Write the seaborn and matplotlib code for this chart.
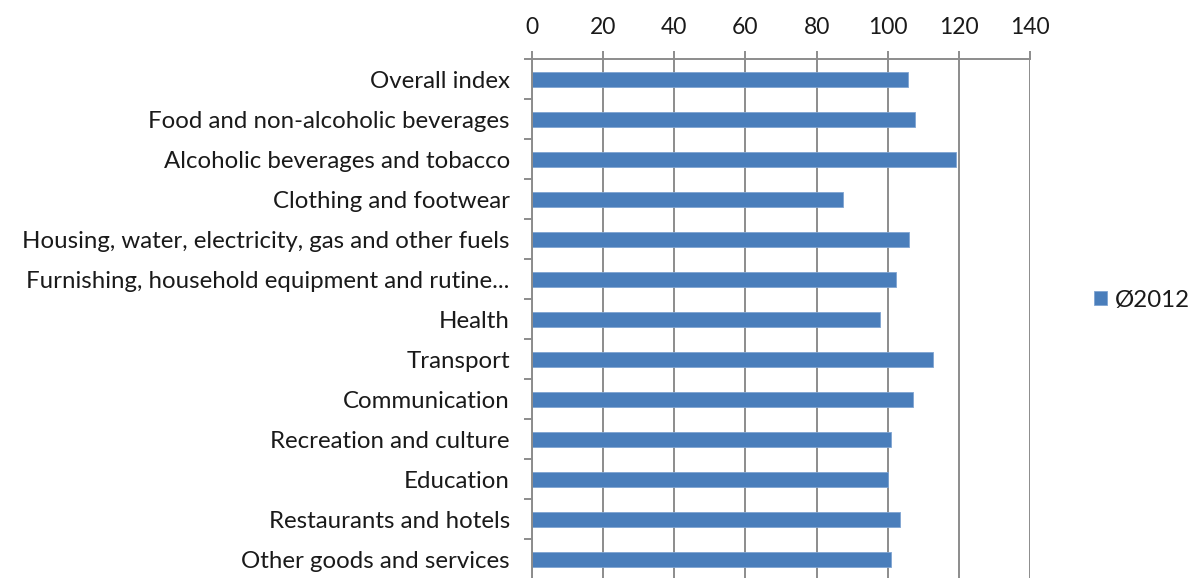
import matplotlib
matplotlib.use("Agg")
import matplotlib.pyplot as plt
import seaborn as sns
import numpy as np
import pandas as pd
from matplotlib.ticker import FixedLocator

categories = [
    "Overall index",
    "Food and non-alcoholic beverages",
    "Alcoholic beverages and tobacco",
    "Clothing and footwear",
    "Housing, water, electricity, gas and other fuels",
    "Furnishing, household equipment and rutine...",
    "Health",
    "Transport",
    "Communication",
    "Recreation and culture",
    "Education",
    "Restaurants and hotels",
    "Other goods and services",
]
values = [105.8, 107.8, 119.1, 87.5, 106.1, 102.3, 97.8, 112.7, 107.0, 101.0, 100.1, 103.5, 100.9]
series_name = "Ø2012"
x_ticks = [0, 20, 40, 60, 80, 100, 120, 140]

sns.set_theme(style="white")
plt.rcParams['font.family'] = ['Lato', 'DejaVu Sans']

W, H = 1189, 578
fig = plt.figure(figsize=(W / 100, H / 100), dpi=100)
left, right, top, bottom = 532, 1030, 59.3, 579.3
ax = fig.add_axes([left / W, 1 - bottom / H, (right - left) / W, (bottom - top) / H])

df = pd.DataFrame({"cat": categories, "val": values})
sns.barplot(data=df, y="cat", x="val", orient="h", color="#4A7EBB",
            width=0.39, saturation=1, edgecolor="#7FA4D2", linewidth=0.6,
            label=series_name, ax=ax)

grid_c = "#8C8C8C"
txt_c = "#1a1a1a"
ax.set_xlim(0, 140)
ax.set_ylim(len(categories) - 0.5, -0.5)
ax.xaxis.tick_top()
ax.set_xticks(x_ticks)
ax.set_xticklabels([str(t) for t in x_ticks])
ax.set_xlabel("")
ax.set_ylabel("")
ax.grid(axis="x", color=grid_c, linewidth=1.4)
ax.set_axisbelow(True)

for s in ["right", "bottom"]:
    ax.spines[s].set_visible(False)
for s in ["left", "top"]:
    ax.spines[s].set_color(grid_c)
    ax.spines[s].set_linewidth(1.4)

ax.tick_params(axis="x", which="major", top=True, bottom=False, length=6, width=1.4,
               color=grid_c, labelsize=16.5, labelcolor=txt_c, pad=9)
ax.tick_params(axis="y", which="major", left=False, length=0, labelsize=17.3,
               labelcolor=txt_c, pad=16)
ax.yaxis.set_minor_locator(FixedLocator(np.arange(-0.5, len(categories), 1.0)))
ax.tick_params(axis="y", which="minor", left=True, length=6, width=1.4, color=grid_c)

leg = fig.legend(handles=ax.patches[:1], labels=[series_name], loc="center left",
                 bbox_to_anchor=(1094 / W, 1 - 300 / H), frameon=False,
                 fontsize=17.3, handlelength=0.55, handleheight=0.55, handletextpad=0.3,
                 borderpad=0, borderaxespad=0)
for t in leg.get_texts():
    t.set_color(txt_c)
if ax.get_legend():
    ax.get_legend().remove()

fig.savefig("out.png", dpi=100)
